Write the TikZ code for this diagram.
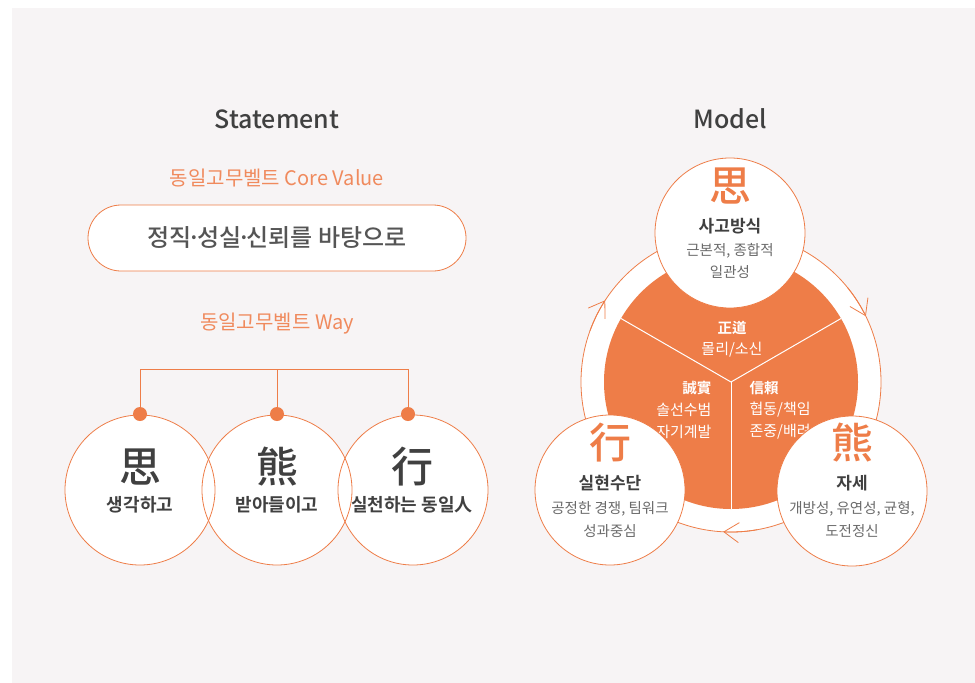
\documentclass[tikz,border=0pt]{standalone}
\usepackage{fontspec}
\setmainfont{Noto Sans CJK KR}
\IfFontExistsTF{Noto Sans CJK KR Medium}
  {\newfontfamily\krsemi{Noto Sans CJK KR Medium}}
  {\newfontfamily\krsemi{Noto Sans CJK KR Bold}}
\newfontfamily\krbold{Noto Sans CJK KR Bold}
\usetikzlibrary{arrows.meta,calc}
\definecolor{bgpanel}{HTML}{F7F4F5}
\definecolor{orng}{HTML}{EE7D48}
\definecolor{orngtxt}{HTML}{F08A5D}
\definecolor{darktxt}{HTML}{404040}
\definecolor{midtxt}{HTML}{555555}
\definecolor{graytxt}{HTML}{6A6A6A}
\newcommand{\mdot}{\kern-0.17em\char"00B7\kern-0.17em}
\begin{document}
\begin{tikzpicture}[x=1pt,y=-1pt,
  title/.style={font=\fontsize{25}{30}\krsemi, text=darktxt},
  subtitle/.style={font=\fontsize{20}{24}\selectfont, text=orngtxt},
  pill/.style={draw=orng, line width=0.8pt, fill=white, rounded corners=33pt,
    minimum width=378pt, minimum height=66pt, inner sep=0pt,
    font=\fontsize{24}{28}\krsemi, text=midtxt},
  waycircle/.style={circle, fill=white, minimum size=150pt, inner sep=0pt},
  wayline/.style={draw=orng, line width=0.8pt},
  dot/.style={circle, fill=orng, minimum size=14pt, inner sep=0pt},
  darkhanja/.style={font=\fontsize{42}{46}\krsemi, text=darktxt},
  waylabel/.style={font=\fontsize{18}{22}\krbold, text=darktxt},
  modelcircle/.style={circle, draw=orng, line width=0.8pt, fill=white, minimum size=150pt, inner sep=0pt},
  orhanja/.style={font=\fontsize{42}{46}\krsemi, text=orng},
  headlabel/.style={font=\fontsize{17}{20}\krbold, text=darktxt},
  desc/.style={font=\fontsize{14.5}{22.5}\selectfont, text=graytxt, align=center},
  inhead/.style={font=\fontsize{14.5}{17}\krbold, text=white},
  indesc/.style={font=\fontsize{15}{22}\selectfont, text=white},
  ringline/.style={draw=orng, line width=0.8pt},
  chev/.style={ringline, -{Straight Barb[length=15pt, width=20pt, line width=0.8pt]}}
]
\useasboundingbox (0,0) rectangle (975,683);
\fill[bgpanel] (12,8) rectangle (975,683);

% ---------- Statement ----------
\node[title] (st) at (277,119) {Statement};
\node[subtitle] (cv) at (277,178) {동일고무벨트 Core Value};
\node[pill] (pl) at (277,238) {정직\mdot 성실\mdot 신뢰를 바탕으로};
\node[subtitle] (wy) at (277,324) {동일고무벨트 Way};

\coordinate (barL) at (140,369);
\coordinate (barM) at (277,369);
\coordinate (barR) at (408,369);

\node[waycircle] (w1) at (140,490) {};
\node[waycircle] (w2) at (277,490) {};
\node[waycircle] (w3) at (413,490) {};
\foreach \n in {w1,w2,w3} \draw[wayline] (\n.center) circle[radius=75];

\draw[wayline] (barL) -- (barR);
\node[dot] (d1) at (140,414) {};
\node[dot] (d2) at (277,414) {};
\node[dot] (d3) at (408,414) {};
\draw[wayline] (barL) -- (d1.center);
\draw[wayline] (barM) -- (d2.center);
\draw[wayline] (barR) -- (d3.center);

\node[darkhanja] (h1) at (140,467) {思};
\node[waylabel] (l1) at (140,505) {생각하고};
\node[darkhanja] (h2) at (277,467) {熊};
\node[waylabel] (l2) at (277,505) {받아들이고};
\node[darkhanja] (h3) at (412,467) {行};
\node[waylabel] (l3) at (412,505) {실천하는 동일人};

% ---------- Model ----------
\node[title] (md) at (730,119) {Model};
\coordinate (ring) at (731,382);
\filldraw[fill=white, ringline] (ring) circle[radius=150];
\fill[orng] (ring) circle[radius=127];
\draw[white, line width=1pt] (ring) -- ++(210:127);
\draw[white, line width=1pt] (ring) -- ++(330:127);
\draw[white, line width=1pt] (ring) -- ++(90:127);

\draw[chev] ($(ring)+(200:150)$) arc[start angle=200, end angle=213, radius=150];
\draw[chev] ($(ring)+(321:150)$) arc[start angle=321, end angle=334, radius=150];
\draw[chev] ($(ring)+(80:150)$) arc[start angle=80, end angle=93, radius=150];

\node[inhead] (zd) at (732,328) {正道};
\node[indesc] (zdd) at (732,350) {몰리/소신};
\node[inhead, anchor=east] (ss) at (715,388) {誠實};
\node[indesc, anchor=east, align=right] (ssd) at (715,421) {솔선수범\\자기계발};
\node[inhead, anchor=west] (sl) at (746,388) {信賴};
\node[indesc, anchor=west, align=left] (sld) at (746,421) {협동/책임\\존중/배려};

\node[modelcircle] (mt) at (730,233) {};
\node[modelcircle] (mb) at (610,490) {};
\node[modelcircle] (mr) at (852,491) {};

\node[orhanja] (th) at (730,186) {思};
\node[headlabel] (tl) at (730,226) {사고방식};
\node[desc] (td) at (730,261) {근본적, 종합적\\일관성};

\node[orhanja] (bh) at (610,443) {行};
\node[headlabel] (bl) at (610,483) {실현수단};
\node[desc] (bd) at (610,519.5) {공정한 경쟁, 팀워크\\성과중심};

\node[orhanja] (rh) at (852,443) {熊};
\node[headlabel] (rl) at (852,483) {자세};
\node[desc] (rd) at (852,519.5) {개방성, 유연성, 균형,\\도전정신};
\end{tikzpicture}
\end{document}
